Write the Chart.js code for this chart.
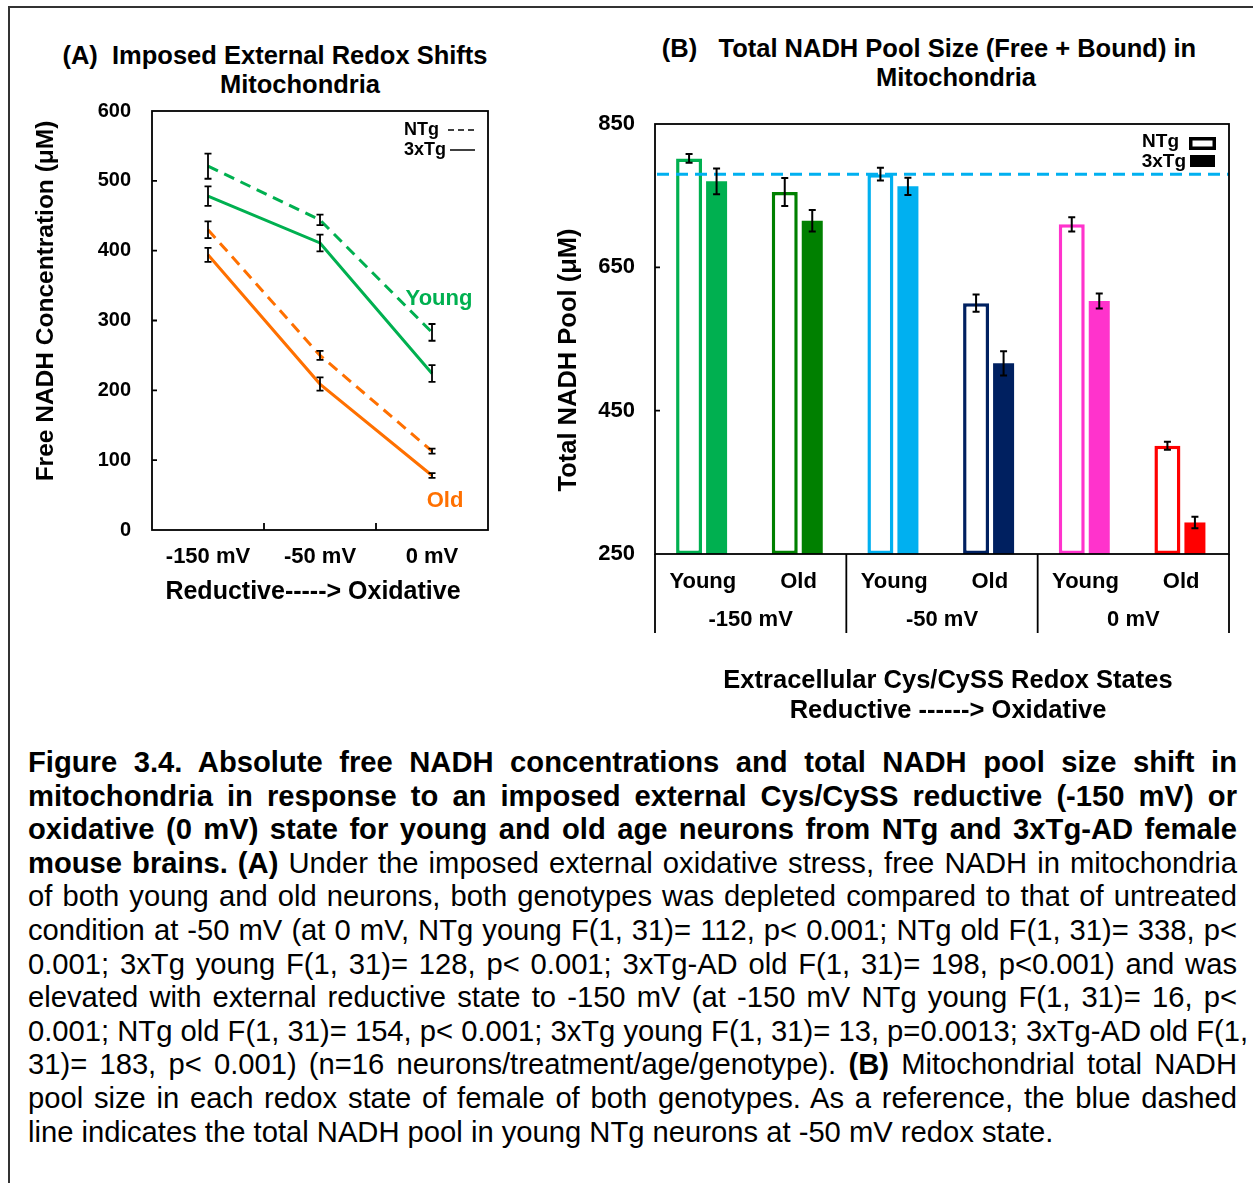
<!DOCTYPE html>
<html>
<head>
<meta charset="utf-8">
<title>Mitochondrial NADH under imposed redox shifts</title>
<script src="https://cdn.jsdelivr.net/npm/chart.js@4.4.1/dist/chart.umd.min.js"></script>
<style>
  html, body { margin: 0; padding: 0; background: #fff; }
  #page { position: relative; width: 1253px; height: 1183px; overflow: hidden; background: #fff;
          font-family: "Liberation Sans", Arial, Helvetica, sans-serif; color: #000; }
  .rule { position: absolute; background: #333; }
  .ptitle { position: absolute; width: 700px; font-weight: bold; font-size: 25.5px; line-height: 29px;
            text-align: center; white-space: pre; }
  .wrap { position: absolute; }
  #caption { position: absolute; left: 28px; top: 746px; width: 1209px; font-size: 29.2px; line-height: 33.6px; }
  #caption div { white-space: nowrap; text-align: justify; text-align-last: justify; }
  #caption div.last { text-align-last: left; }
</style>
</head>
<body>
<div id="page">
  <div class="rule" style="left:8px; top:6px; width:1245px; height:1.5px;"></div>
  <div class="rule" style="left:8px; top:6px; width:1.5px; height:1177px;"></div>

  <div class="ptitle" style="left:-75px; top:41px;">(A)  Imposed External Redox Shifts</div>
  <div class="ptitle" style="left:-50px; top:70px;">Mitochondria</div>
  <div class="ptitle" style="left:579px; top:34px;">(B)   Total NADH Pool Size (Free + Bound) in</div>
  <div class="ptitle" style="left:606px; top:63px;">Mitochondria</div>

  <div class="wrap" style="left:10px; top:95px; width:500px; height:525px;"><canvas id="chartA"></canvas></div>
  <div class="wrap" style="left:520px; top:100px; width:733px; height:630px;"><canvas id="chartB"></canvas></div>

  <div id="caption">
    <div><b>Figure 3.4. Absolute free NADH concentrations and total NADH pool size shift in</b></div>
    <div><b>mitochondria in response to an imposed external Cys/CySS reductive (-150 mV) or</b></div>
    <div><b>oxidative (0 mV) state for young and old age neurons from NTg and 3xTg-AD female</b></div>
    <div><b>mouse brains. (A)</b> Under the imposed external oxidative stress, free NADH in mitochondria</div>
    <div>of both young and old neurons, both genotypes was depleted compared to that of untreated</div>
    <div>condition at -50 mV (at 0 mV, NTg young F(1, 31)= 112, p&lt; 0.001; NTg old F(1, 31)= 338, p&lt;</div>
    <div>0.001; 3xTg young F(1, 31)= 128, p&lt; 0.001; 3xTg-AD old F(1, 31)= 198, p&lt;0.001) and was</div>
    <div>elevated with external reductive state to -150 mV (at -150 mV NTg young F(1, 31)= 16, p&lt;</div>
    <div>0.001; NTg old F(1, 31)= 154, p&lt; 0.001; 3xTg young F(1, 31)= 13, p=0.0013; 3xTg-AD old F(1,</div>
    <div>31)= 183, p&lt; 0.001) (n=16 neurons/treatment/age/genotype). <b>(B)</b> Mitochondrial total NADH</div>
    <div>pool size in each redox state of female of both genotypes. As a reference, the blue dashed</div>
    <div class="last">line indicates the total NADH pool in young NTg neurons at -50 mV redox state.</div>
  </div>
</div>

<script>
// ---- Panel A: free NADH concentration (μM), mean and error ----
const redoxLevels = ['-150 mV', '-50 mV', '0 mV'];
const youngNTg      = [521, 444, 283];
const youngNTgErr   = [18, 7.5, 12];
const young3xTg     = [478, 411, 224];
const young3xTgErr  = [14, 12, 12];
const oldNTg        = [430, 250, 113];
const oldNTgErr     = [12, 6.5, 3.5];
const old3xTg       = [394, 209, 78];
const old3xTgErr    = [10, 9.5, 3.5];

// ---- Panel B: total NADH pool (μM), mean and error ----
const ageGroups   = ['Young', 'Old', 'Young', 'Old', 'Young', 'Old'];
const redoxGroups = ['-150 mV', '-50 mV', '0 mV'];
const poolNTg     = [802, 755, 780, 600, 710, 401];
const poolNTgErr  = [6, 19.5, 9, 12, 10, 5.5];
const pool3xTg    = [770, 715, 763, 516, 603, 294];
const pool3xTgErr = [18, 15, 12, 17, 10.5, 8];
const refPool     = 780;   // young NTg at -50 mV

const FONT = '"Liberation Sans", Arial, Helvetica, sans-serif';
const GREEN = '#00B050';
const ORANGE = '#FF7000';
const barColors = ['#00B050', '#008000', '#00B0F0', '#002060', '#FF33CC', '#FF0000'];

Chart.defaults.font.family = FONT;
Chart.defaults.color = '#000';

// fixed-size axis boxes that do not push the plot area around
function fixBox(size, horizontal) {
  return function (s) {
    if (horizontal) s.height = size; else s.width = size;
    s.paddingTop = 0; s.paddingBottom = 0; s.paddingLeft = 0; s.paddingRight = 0;
  };
}

function drawErrorBars(chart, capHalf, lineWidth) {
  const ctx = chart.ctx, yScale = chart.scales.y;
  ctx.save();
  ctx.strokeStyle = '#000';
  ctx.lineWidth = lineWidth;
  chart.data.datasets.forEach((ds, di) => {
    if (!ds.errorBars) return;
    chart.getDatasetMeta(di).data.forEach((el, i) => {
      const v = ds.data[i], e = ds.errorBars[i];
      const x = el.x;
      const yt = yScale.getPixelForValue(v + e);
      const yb = yScale.getPixelForValue(v - e);
      ctx.beginPath();
      ctx.moveTo(x, yt); ctx.lineTo(x, yb);
      ctx.moveTo(x - capHalf, yt); ctx.lineTo(x + capHalf, yt);
      ctx.moveTo(x - capHalf, yb); ctx.lineTo(x + capHalf, yb);
      ctx.stroke();
    });
  });
  ctx.restore();
}

function text(ctx, str, x, y, size, color, align, rotate) {
  ctx.save();
  ctx.font = 'bold ' + size + 'px ' + FONT;
  ctx.fillStyle = color || '#000';
  ctx.textAlign = align || 'center';
  ctx.textBaseline = 'middle';
  ctx.translate(x, y);
  if (rotate) ctx.rotate(rotate);
  ctx.fillText(str, 0, 0);
  ctx.restore();
}

// Frame, inner ticks, error bars, legend and axis titles for panel A
const panelADecor = {
  id: 'panelADecor',
  afterDatasetsDraw(chart) { drawErrorBars(chart, 3.5, 1.8); },
  afterDraw(chart) {
    const ctx = chart.ctx, ca = chart.chartArea;
    const xs = chart.scales.x, ys = chart.scales.y;
    ctx.save();
    ctx.strokeStyle = '#000';
    ctx.lineWidth = 1.8;
    ctx.strokeRect(ca.left, ca.top, ca.width, ca.height);
    ctx.beginPath();
    ys.ticks.forEach(t => {
      if (t.value > ys.min && t.value < ys.max) {
        const py = ys.getPixelForValue(t.value);
        ctx.moveTo(ca.left, py); ctx.lineTo(ca.left + 5, py);
      }
    });
    for (let i = 1; i < redoxLevels.length; i++) {
      const px = (xs.getPixelForValue(i - 1) + xs.getPixelForValue(i)) / 2;
      ctx.moveTo(px, ca.bottom); ctx.lineTo(px, ca.bottom - 7);
    }
    ctx.stroke();

    // legend: genotype line styles
    text(ctx, 'NTg', ca.right - 84, ca.top + 19, 18, '#000', 'left');
    text(ctx, '3xTg', ca.right - 84, ca.top + 39, 18, '#000', 'left');
    ctx.lineWidth = 1.5;
    ctx.setLineDash([6, 4]);
    ctx.beginPath(); ctx.moveTo(ca.right - 40, ca.top + 19); ctx.lineTo(ca.right - 13, ca.top + 19); ctx.stroke();
    ctx.setLineDash([]);
    ctx.beginPath(); ctx.moveTo(ca.right - 38, ca.top + 39); ctx.lineTo(ca.right - 13, ca.top + 39); ctx.stroke();
    ctx.restore();

    text(ctx, 'Young', ca.left + 287, ca.top + 188, 22, GREEN);
    text(ctx, 'Old', ca.left + 293, ca.top + 390, 22, ORANGE);
    text(ctx, 'Free NADH Concentration (μM)', ca.left - 106, ca.top + 190, 24.5, '#000', 'center', -Math.PI / 2);
    text(ctx, 'Reductive-----> Oxidative', ca.left + 161, ca.bottom + 62, 25);
  }
};

new Chart(document.getElementById('chartA'), {
  type: 'line',
  data: {
    labels: redoxLevels,
    datasets: [
      { label: 'Young NTg',  data: youngNTg,  errorBars: youngNTgErr,  borderColor: GREEN,  borderDash: [11, 7] },
      { label: 'Young 3xTg', data: young3xTg, errorBars: young3xTgErr, borderColor: GREEN },
      { label: 'Old NTg',    data: oldNTg,    errorBars: oldNTgErr,    borderColor: ORANGE, borderDash: [11, 7] },
      { label: 'Old 3xTg',   data: old3xTg,   errorBars: old3xTgErr,   borderColor: ORANGE }
    ]
  },
  options: {
    responsive: true,
    maintainAspectRatio: false,
    animation: false,
    events: [],
    layout: { padding: { top: 16, right: 22, bottom: 10, left: 0 } },
    elements: {
      line: { borderWidth: 3, tension: 0, fill: false },
      point: { radius: 0, hoverRadius: 0 }
    },
    plugins: { legend: { display: false }, tooltip: { enabled: false } },
    scales: {
      x: {
        type: 'category', offset: true,
        grid: { display: false, drawTicks: false }, border: { display: false },
        ticks: { font: { size: 22, weight: 'bold' }, color: '#000', padding: 14, maxRotation: 0, autoSkip: false },
        afterFit: fixBox(80, true)
      },
      y: {
        min: 0, max: 600,
        grid: { display: false, drawTicks: false }, border: { display: false },
        ticks: { stepSize: 100, font: { size: 20, weight: 'bold' }, color: '#000', padding: 21 },
        afterFit: fixBox(142, false)
      }
    }
  },
  plugins: [panelADecor]
});

// Frame, reference line, group separators, error bars, legend and titles for panel B
const panelBDecor = {
  id: 'panelBDecor',
  afterDatasetsDraw(chart) {
    const ctx = chart.ctx, ca = chart.chartArea, ys = chart.scales.y;
    const py = ys.getPixelForValue(refPool);
    ctx.save();
    ctx.strokeStyle = '#00B0F0';
    ctx.lineWidth = 3;
    ctx.setLineDash([12, 7]);
    ctx.beginPath(); ctx.moveTo(ca.left + 2, py); ctx.lineTo(ca.right, py); ctx.stroke();
    ctx.restore();
    drawErrorBars(chart, 3.5, 2);
  },
  afterDraw(chart) {
    const ctx = chart.ctx, ca = chart.chartArea, ys = chart.scales.y, xs2 = chart.scales.x2;
    ctx.save();
    ctx.strokeStyle = '#000';
    ctx.lineWidth = 1.8;
    ctx.strokeRect(ca.left, ca.top, ca.width, ca.height);
    ctx.beginPath();
    ys.ticks.forEach(t => {
      if (t.value > ys.min && t.value < ys.max) {
        const y = ys.getPixelForValue(t.value);
        ctx.moveTo(ca.left, y); ctx.lineTo(ca.left + 5, y);
      }
    });
    // separators between redox groups, running through both label rows
    for (let k = 0; k <= redoxGroups.length; k++) {
      const px = ca.left + ca.width * k / redoxGroups.length;
      ctx.moveTo(px, ca.bottom); ctx.lineTo(px, xs2.bottom - 9);
    }
    ctx.stroke();

    // legend: open bar = NTg, filled bar = 3xTg
    text(ctx, 'NTg', ca.right - 50, ca.top + 18, 19, '#000', 'right');
    text(ctx, '3xTg', ca.right - 43, ca.top + 38, 19, '#000', 'right');
    ctx.lineWidth = 3.5;
    ctx.strokeRect(ca.right - 38.25, ca.top + 14.75, 23.5, 9.5);
    ctx.fillStyle = '#000';
    ctx.fillRect(ca.right - 39, ca.top + 31, 25, 12);
    ctx.restore();

    text(ctx, 'Total NADH Pool (μM)', ca.left - 86, ca.top + 236, 25.5, '#000', 'center', -Math.PI / 2);
    text(ctx, 'Extracellular Cys/CySS Redox States', ca.left + 293, ca.bottom + 127, 25.5);
    text(ctx, 'Reductive ------> Oxidative', ca.left + 293, ca.bottom + 157, 25.5);
  }
};

new Chart(document.getElementById('chartB'), {
  type: 'bar',
  data: {
    labels: ageGroups,
    datasets: [
      { label: 'NTg', data: poolNTg, errorBars: poolNTgErr, backgroundColor: '#ffffff',
        borderColor: barColors, borderWidth: 3.5, borderSkipped: false, barPercentage: 0.945 },
      { label: '3xTg', data: pool3xTg, errorBars: pool3xTgErr, backgroundColor: barColors,
        borderWidth: 0, barPercentage: 0.764 }
    ]
  },
  options: {
    responsive: true,
    maintainAspectRatio: false,
    animation: false,
    events: [],
    layout: { padding: { top: 24, right: 24, bottom: 88, left: 0 } },
    datasets: { bar: { categoryPercentage: 0.575, base: 250 } },
    plugins: { legend: { display: false }, tooltip: { enabled: false } },
    scales: {
      x: {
        grid: { display: false, drawTicks: false }, border: { display: false },
        ticks: { font: { size: 22, weight: 'bold' }, color: '#000', padding: 15, maxRotation: 0, autoSkip: false },
        afterFit: fixBox(48, true)
      },
      x2: {
        type: 'category', labels: redoxGroups, position: 'bottom', offset: true,
        grid: { display: false, drawTicks: false }, border: { display: false },
        ticks: { font: { size: 22, weight: 'bold' }, color: '#000', padding: 5, maxRotation: 0, autoSkip: false },
        afterFit: fixBox(40, true)
      },
      y: {
        min: 250, max: 850,
        grid: { display: false, drawTicks: false }, border: { display: false },
        ticks: { stepSize: 200, font: { size: 22, weight: 'bold' }, color: '#000', padding: 20 },
        afterFit: fixBox(135, false)
      }
    }
  },
  plugins: [panelBDecor]
});
</script>
</body>
</html>
